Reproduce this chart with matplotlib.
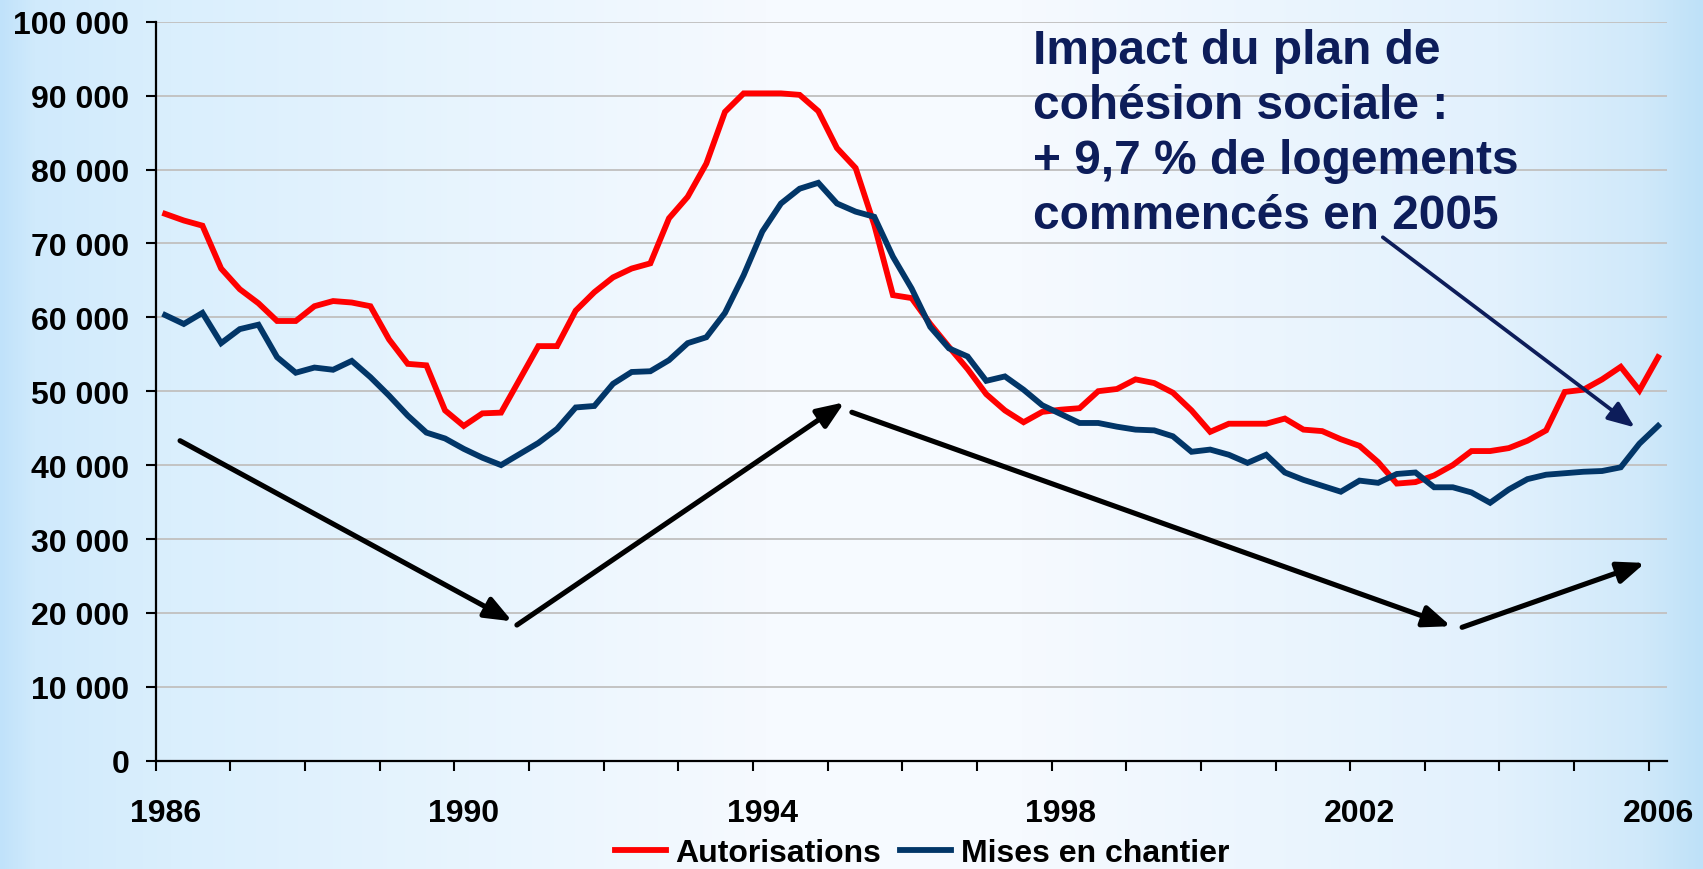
import numpy as np
import matplotlib
matplotlib.use("Agg")
import matplotlib.pyplot as plt
from matplotlib.lines import Line2D

# ---------------- data (quarterly, 1986T1 .. 2006T1) ----------------
autorisations = [
    74000, 73100, 72400, 66600, 63800, 61900, 59500, 59500, 61500, 62200,
    62000, 61500, 57000, 53700, 53500, 47400, 45300, 47000, 47100, 51600,
    56100, 56100, 60900, 63400, 65400, 66600, 67300, 73400, 76300, 80800,
    87800, 90300, 90300, 90300, 90100, 87900, 82900, 80200, 72500, 63000,
    62600, 59100, 56000, 53000, 49600, 47400, 45800, 47200, 47500, 47700,
    50000, 50300, 51600, 51100, 49800, 47400, 44500, 45600, 45600, 45600,
    46300, 44800, 44600, 43500, 42600, 40400, 37500, 37700, 38600, 40000,
    41900, 41900, 42300, 43300, 44700, 49900, 50200, 51600, 53300, 50100,
    54600,
]
mises_en_chantier = [
    60300, 59100, 60600, 56500, 58400, 59000, 54600, 52500, 53200, 52900,
    54100, 51900, 49400, 46700, 44400, 43600, 42200, 41000, 40000, 41500,
    43000, 44900, 47800, 48000, 51000, 52600, 52700, 54200, 56500, 57300,
    60600, 65700, 71600, 75400, 77400, 78200, 75400, 74300, 73600, 68200,
    63900, 58700, 55800, 54700, 51400, 52000, 50200, 48100, 46900, 45700,
    45700, 45200, 44800, 44700, 43900, 41800, 42100, 41400, 40300, 41400,
    39000, 38000, 37200, 36400, 37900, 37600, 38800, 39000, 37000, 37000,
    36300, 34900, 36700, 38100, 38700, 38900, 39100, 39200, 39700, 42900,
    45300,
]
quarters = [f"{y}T{q}" for y in range(1986, 2007) for q in range(1, 5)][:len(autorisations)]
year_labels = ["1986", "1990", "1994", "1998", "2002", "2006"]
y_ticks = [0, 10000, 20000, 30000, 40000, 50000, 60000, 70000, 80000, 90000, 100000]
y_tick_labels = ["0", "10 000", "20 000", "30 000", "40 000", "50 000",
                 "60 000", "70 000", "80 000", "90 000", "100 000"]
series_names = ["Autorisations", "Mises en chantier"]
note_text = "Impact du plan de\ncohésion sociale :\n+ 9,7 % de logements\ncommencés en 2005"

# ---------------- style ----------------
RED = "#ff0000"
BLUE = "#023668"
NAVY = "#0d1d5a"
FONT = "Liberation Sans"
plt.rcParams["font.family"] = [FONT, "DejaVu Sans"]
LABEL_SIZE = 23

W, H = 1703, 870
fig = plt.figure(figsize=(W / 100, H / 100), dpi=100)

# background gradient
bg = fig.add_axes([0, 0, 1, 1], zorder=0)
xs = np.linspace(0, 1, W)
stops = [0.0, 0.02, 0.10, 0.45, 0.60, 0.88, 0.965, 1.0]
r = [192, 208, 218, 246, 246, 226, 208, 190]
g = [226, 234, 239, 250, 250, 241, 233, 225]
b = [250, 252, 253, 255, 255, 253, 250, 248]
row = np.stack([np.interp(xs, stops, r), np.interp(xs, stops, g), np.interp(xs, stops, b)], axis=-1) / 255.0
bg.imshow(np.repeat(row[None, :, :], 2, axis=0), aspect="auto", extent=[0, 1, 0, 1])
bg.set_axis_off()

ax = fig.add_axes([155.8 / W, 1 - 761.7 / H, 1511.6 / W, (761.7 - 22.7) / H], zorder=1)
ax.patch.set_alpha(0)

x = np.arange(len(quarters))
ax.plot(x, autorisations, color=RED, lw=4.2, solid_joinstyle="miter", zorder=3)
ax.plot(x, mises_en_chantier, color=BLUE, lw=4.2, solid_joinstyle="miter", zorder=3)

ax.set_xlim(-0.5, len(quarters) - 0.5)
ax.set_ylim(0, 100000)

# grid / spines
ax.yaxis.grid(True, color="#c3c3c3", lw=1.4)
ax.set_axisbelow(True)
for s in ["top", "right"]:
    ax.spines[s].set_visible(False)
for s in ["left", "bottom"]:
    ax.spines[s].set_linewidth(1.6)
    ax.spines[s].set_color("black")

ax.set_yticks(y_ticks)
ax.set_yticklabels(y_tick_labels)
ax.tick_params(axis="y", length=7.2, width=1.5, pad=12, labelsize=LABEL_SIZE, direction="out")

label_pos = [quarters.index(f"{y}T1") for y in year_labels]
ax.set_xticks(label_pos)
ax.set_xticklabels(year_labels)
ax.set_xticks(np.arange(-0.5, len(quarters) - 1, 4), minor=True)
ax.tick_params(axis="x", which="major", length=0, pad=27, labelsize=LABEL_SIZE)
ax.tick_params(axis="x", which="minor", length=7.2, width=1.5, direction="out")
for lab in ax.get_xticklabels() + ax.get_yticklabels():
    lab.set_fontweight("bold")

# trend arrows (annotation positions in data coordinates)
black_arrows = [((0.8, 43300), (18.6, 18860)),
                ((18.85, 18360), (36.4, 48500)),
                ((36.8, 47150), (68.9, 18200)),
                ((69.5, 18050), (79.3, 26760))]
for start, end in black_arrows:
    ax.annotate("", xy=end, xytext=start,
                arrowprops=dict(arrowstyle="-|>,head_length=0.65,head_width=0.26",
                                color="black", lw=3.7, shrinkA=0, shrinkB=0,
                                mutation_scale=25, capstyle="round"),
                zorder=4)
ax.annotate("", xy=(78.75, 45100), xytext=(65.25, 70830),
            arrowprops=dict(arrowstyle="-|>,head_length=0.65,head_width=0.26",
                            color=NAVY, lw=2.7, shrinkA=0, shrinkB=0,
                            mutation_scale=25, capstyle="round"),
            zorder=4)

fig.text(1033 / W, 1 - 29.5 / H, note_text, fontsize=34.5, fontweight="bold",
         color=NAVY, ha="left", va="top", linespacing=1.28, zorder=5)

handles = [Line2D([], [], color=RED, lw=4.2), Line2D([], [], color=BLUE, lw=4.2)]
fig.legend(handles, series_names, loc="center", bbox_to_anchor=(922 / W, 1 - 854 / H),
           ncol=2, frameon=False, handlelength=1.6, handletextpad=0.3,
           columnspacing=0.6, borderpad=0,
           prop=dict(family=FONT, weight="bold", size=LABEL_SIZE))

fig.savefig("out.png", dpi=100)
